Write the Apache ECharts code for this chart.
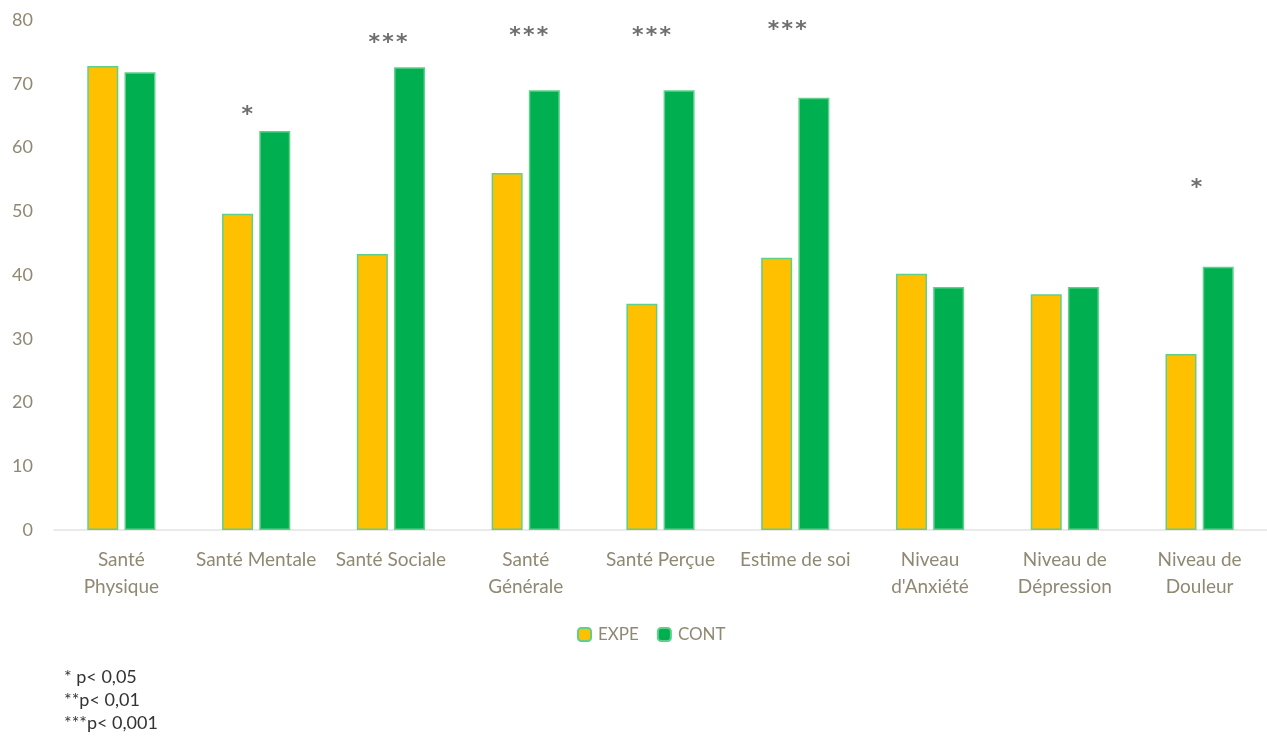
<!DOCTYPE html>
<html><head><meta charset="utf-8">
<script src="https://cdn.jsdelivr.net/npm/echarts@6/dist/echarts.min.js"></script>
<style>html,body{margin:0;padding:0;background:#fff}#c{width:1267px;height:738px}</style>
</head><body><div id="c"></div>
<script>
// ---- data ----
const categories = ["Santé\nPhysique","Santé Mentale","Santé Sociale","Santé\nGénérale","Santé Perçue","Estime de soi","Niveau\nd'Anxiété","Niveau de\nDépression","Niveau de\nDouleur"];
const expe = [72.8, 49.6, 43.3, 56.0, 35.5, 42.7, 40.2, 37.0, 27.6];
const cont = [71.8, 62.6, 72.6, 69.0, 69.0, 67.8, 38.1, 38.1, 41.3];
const starText = ["", "*", "***", "***", "***", "***", "", "", "*"];
const starY = [null, 65.9, 77.2, 78.2, 78.3, 79.2, null, null, 54.4];
const yTicks = [0, 10, 20, 30, 40, 50, 60, 70, 80];
const footnotes = ["* p< 0,05", "**p< 0,01", "***p< 0,001"];

// ---- styles ----
const font = "Lato, 'Open Sans', sans-serif";
const txt = "#8f8872";
const starLabelOffset = [[0,5],[-9,5],[-3,5],[3,5],[-9,5],[-8,5],[0,5],[0,5],[-3,5]];

const chart = echarts.init(document.getElementById('c'));
chart.setOption({
  animation: false,
  grid: {left: 54, right: 0, top: 20, bottom: 208},
  legend: {
    data: ["EXPE", "CONT"], bottom: 90, left: 572, itemWidth: 13, itemHeight: 13, itemGap: 18,
    textStyle: {color: txt, fontSize: 17, fontFamily: font, padding: [0, 0, 0, 2]}
  },
  xAxis: {
    type: 'category', data: categories,
    axisLine: {lineStyle: {color: '#e3e3e3', width: 1.5}},
    axisTick: {show: false},
    axisLabel: {color: txt, fontSize: 19, fontFamily: font, margin: 16, lineHeight: 27, interval: 0}
  },
  yAxis: {
    type: 'value', min: 0, max: 80, interval: 10,
    axisLine: {show: false}, axisTick: {show: false}, splitLine: {show: false},
    axisLabel: {color: txt, fontSize: 18, fontFamily: font, margin: 21,
      formatter: v => yTicks.includes(v) ? String(v) : ''}
  },
  series: [
    {name: "EXPE", type: 'bar', data: expe, barWidth: 31, barGap: '20%',
     itemStyle: {color: '#FFC000', borderColor: '#5fd08a', borderWidth: 1.5}},
    {name: "CONT", type: 'bar', data: cont, barWidth: 31,
     itemStyle: {color: '#00B050', borderColor: '#5fd08a', borderWidth: 1.5}},
    {name: "stars", type: 'scatter', symbolSize: 0, silent: true,
     data: starY.map((v, i) => v == null ? null : {value: [i, v],
       label: {formatter: starText[i].split('').join('\u200a'), offset: starLabelOffset[i]}}),
     label: {show: true, position: 'inside', verticalAlign: 'middle', color: '#4a4a4a', fontSize: 22,
       fontFamily: "'DejaVu Sans', sans-serif", fontWeight: 'bold'}}
  ],
  graphic: footnotes.map((t, i) => ({
    type: 'text', left: 64, top: 668 + i * 23,
    style: {text: t, fill: '#333', fontSize: 18, fontFamily: font}
  }))
});
</script></body></html>
